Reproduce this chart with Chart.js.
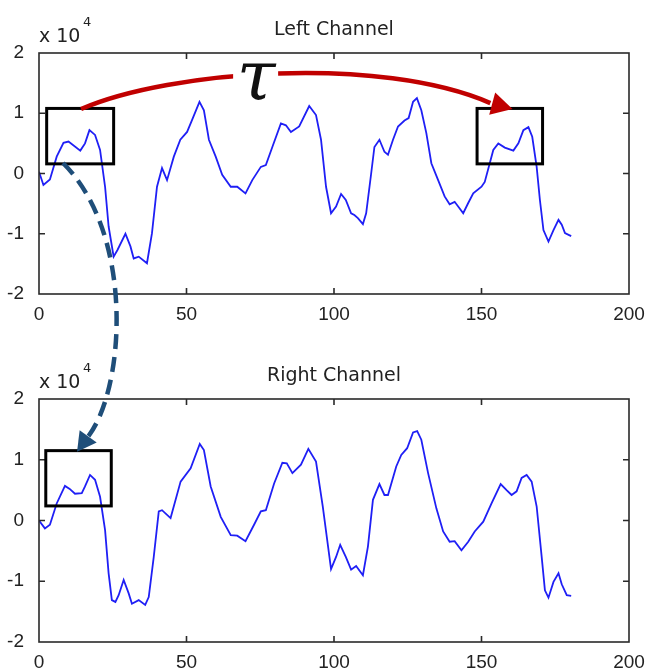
<!DOCTYPE html>
<html><head><meta charset="utf-8">
<script src="https://cdn.jsdelivr.net/npm/chart.js@4.4.1/dist/chart.umd.min.js"></script>
<style>
html,body{margin:0;padding:0;background:#fff;}
#wrap{position:relative;width:648px;height:669px;overflow:hidden;background:#fff;}
canvas{position:absolute;left:0;}
</style></head><body>
<div id="wrap">
<canvas id="c1" width="648" height="330" style="top:0px"></canvas>
<canvas id="c2" width="648" height="333" style="top:336px"></canvas>
<canvas id="ov" width="648" height="669" style="top:0px;pointer-events:none"></canvas>
</div>
<script>
// ---- data ----
const chartTitles = ['Left Channel', 'Right Channel'];
const exponentText = ['x 10', '4'];
const tauLabel = '\u03C4';
const xTicks = [0, 50, 100, 150, 200];
const yTicks = [-20000, -10000, 0, 10000, 20000];

const leftX = [0,1.5,3.7,6,8.3,10,14,15.6,17.1,19,20.7,22.4,23.6,25.3,26.6,29.3,31,32.1,33.8,36.6,38.3,40,41.7,43.4,45.7,47.9,50.2,51.9,54.4,55.9,57.6,59.9,62.1,65,67.2,70,72.3,75.2,76.9,79.1,82,83.7,85.4,88.2,91.6,93.9,95.6,97.3,99,100.7,102.4,104,105.8,106.9,108.1,109.8,110.9,112.6,113.7,115.4,117.1,118.3,120,121.7,123.9,125.3,126.8,128.1,129.6,131.3,133,135.3,137.5,139.2,140.9,142.6,143.8,145.5,147.2,150,151.1,152.8,154,155.7,157.9,160.8,162.5,164.2,165.9,167.2,168.7,169.8,171,172.7,174.4,176.1,177.2,178.3,180.4];
const leftY = [300,-1900,-1000,2800,5100,5300,3800,5000,7200,6400,3900,-2200,-8800,-13800,-12700,-10000,-12100,-14100,-13800,-14900,-9900,-2200,900,-1100,2800,5600,6900,8900,11900,10500,5600,2800,-200,-2200,-2200,-3300,-1100,1100,1400,4400,8300,8000,6900,7800,11200,9700,5600,-2200,-6600,-5500,-3400,-4400,-6600,-6900,-7400,-8400,-6600,0,4400,5600,3600,3100,5600,7800,8800,9200,11900,12500,10500,6700,1700,-1100,-3800,-5100,-4700,-5800,-6600,-4900,-3300,-2200,-1400,1700,3900,5000,4300,3800,5000,7200,7700,6100,1100,-4400,-9400,-11300,-9400,-7700,-8500,-9900,-10400];

const rightX = [0,2,3.7,6,8.8,10.4,12.2,14.5,15.6,17.3,19,20.7,22.4,23.6,24.7,25.9,27,28.7,30.4,31.5,33.8,36,37.2,38.9,40.6,41.7,44.6,48,51.4,54.5,55.9,58.2,61.6,65,67.2,70,72.9,75.2,76.9,79.7,82.5,84,85.9,88.8,91.3,93.9,96.2,99,100.7,102.1,104,105.8,107.5,109.8,111.5,113.2,115.4,117.1,118.3,121.1,122.8,124.8,126.8,128.2,129.6,131.9,134.7,137,139.2,140.9,143.2,145.5,147.7,150.6,153.4,156.5,158.5,160.2,161.9,163.6,165.3,167,168.7,170.4,171.5,172.7,174.4,176.1,177.2,178.9,180.4];
const rightY = [0,-1300,-700,2800,5700,5200,4400,4500,5600,7500,6700,3900,-1600,-8700,-13100,-13400,-12300,-9800,-12000,-13700,-13100,-13900,-12600,-6000,1500,1700,400,6400,8600,12600,11600,5600,600,-2400,-2500,-3400,-700,1500,1700,6100,9500,9400,7800,9200,11800,9700,2300,-8000,-6000,-4000,-6000,-8100,-7500,-9000,-4300,3400,6000,4200,4200,8900,10800,11900,14500,14700,13300,7800,2000,-1800,-3500,-3400,-4900,-3500,-1800,-200,2800,6000,5000,4200,4800,7000,7500,6400,2300,-6000,-11500,-12700,-10100,-8700,-10500,-12300,-12400];

// annotation anchors in data units
const boxesLeft = [[2.6, 25.3, 1600, 10800], [148.5, 170.7, 1600, 10800]];
const boxesRight = [[2.3, 24.5, 2400, 11500]];

// ---- styling ----
const TXT = '#222222';
const FONT = '"Liberation Sans", Arial, sans-serif';
const FONT2 = '"DejaVu Sans", "Liberation Sans", sans-serif';

const frame = {
  id: 'matlabFrame',
  afterDatasetsDraw(chart, args, opts) {
    const ctx = chart.ctx, a = chart.chartArea;
    const xs = chart.scales.x, ys = chart.scales.y;
    ctx.save();
    ctx.strokeStyle = '#2a2a2a';
    ctx.lineWidth = 1.6;
    ctx.strokeRect(a.left, a.top, a.right - a.left, a.bottom - a.top);
    ctx.beginPath();
    const tl = 6;
    xTicks.forEach(v => {
      const p = xs.getPixelForValue(v);
      if (p <= a.left + 1 || p >= a.right - 1) return;
      ctx.moveTo(p, a.bottom); ctx.lineTo(p, a.bottom - tl);
      ctx.moveTo(p, a.top); ctx.lineTo(p, a.top + tl);
    });
    yTicks.forEach(v => {
      const p = ys.getPixelForValue(v);
      if (p <= a.top + 1 || p >= a.bottom - 1) return;
      ctx.moveTo(a.left, p); ctx.lineTo(a.left + tl, p);
      ctx.moveTo(a.right, p); ctx.lineTo(a.right - tl, p);
    });
    ctx.stroke();
    // annotation boxes
    ctx.strokeStyle = '#000';
    ctx.lineWidth = 3;
    (opts.boxes || []).forEach(b => {
      const x0 = xs.getPixelForValue(b[0]), x1 = xs.getPixelForValue(b[1]);
      const y0 = ys.getPixelForValue(b[3]), y1 = ys.getPixelForValue(b[2]);
      ctx.strokeRect(x0, y0, x1 - x0, y1 - y0);
    });
    // title and exponent
    ctx.fillStyle = TXT;
    ctx.textBaseline = 'alphabetic';
    ctx.textAlign = 'center';
    ctx.font = '19px ' + FONT2;
    ctx.fillText(opts.title, (a.left + a.right) / 2, a.top - 18);
    ctx.textAlign = 'left';
    ctx.font = '19px ' + FONT2;
    ctx.fillText(exponentText[0], a.left, a.top - 11);
    ctx.font = '13px ' + FONT2;
    ctx.fillText(exponentText[1], a.left + 44, a.top - 27);
    ctx.restore();
  }
};

function makeChart(id, xsArr, ysArr, title, boxes, padTop, xAxisH) {
  return new Chart(document.getElementById(id), {
    type: 'line',
    data: { datasets: [{
      data: xsArr.map((x, i) => ({ x: x, y: ysArr[i] })),
      borderColor: '#1f1ff5', borderWidth: 1.8, pointRadius: 0, tension: 0, fill: false
    }] },
    options: {
      responsive: false, animation: false, events: [],
      layout: { padding: { top: padTop, right: 19, left: 0, bottom: 0 } },
      plugins: { legend: { display: false }, title: { display: false }, tooltip: { enabled: false },
        matlabFrame: { title: title, boxes: boxes } },
      scales: {
        x: {
          type: 'linear', min: 0, max: 200,
          grid: { display: false }, border: { display: false },
          ticks: { color: TXT, font: { family: FONT, size: 19 }, padding: 1, maxRotation: 0, autoSkip: false },
          afterBuildTicks: s => { s.ticks = xTicks.map(v => ({ value: v })); },
          afterFit: s => { s.height = xAxisH; s.paddingLeft = 0; s.paddingRight = 0; }
        },
        y: {
          type: 'linear', min: -20000, max: 20000,
          grid: { display: false }, border: { display: false },
          ticks: { color: TXT, font: { family: FONT, size: 19 }, padding: 7,
            callback: v => String(v / 10000) },
          afterBuildTicks: s => { s.ticks = yTicks.map(v => ({ value: v })); },
          afterFit: s => { s.width = 39; s.paddingTop = 0; s.paddingBottom = 0; }
        }
      }
    },
    plugins: [frame]
  });
}

const ch1 = makeChart('c1', leftX, leftY, chartTitles[0], boxesLeft, 53, 36);
const ch2 = makeChart('c2', rightX, rightY, chartTitles[1], boxesRight, 63, 27);

function drawOverlay() {
  const cv = document.getElementById('ov');
  const ctx = cv.getContext('2d');
  ctx.clearRect(0, 0, cv.width, cv.height);
  const off1 = document.getElementById('c1').offsetTop;
  const off2 = document.getElementById('c2').offsetTop;
  const P1 = (x, y) => [ch1.scales.x.getPixelForValue(x), ch1.scales.y.getPixelForValue(y) + off1];
  const P2 = (x, y) => [ch2.scales.x.getPixelForValue(x), ch2.scales.y.getPixelForValue(y) + off2];

  function head(tip, from, len, half, color) {
    const dx = tip[0] - from[0], dy = tip[1] - from[1];
    const d = Math.hypot(dx, dy), ux = dx / d, uy = dy / d;
    const bx = tip[0] - ux * len, by = tip[1] - uy * len;
    ctx.fillStyle = color;
    ctx.beginPath();
    ctx.moveTo(tip[0], tip[1]);
    ctx.lineTo(bx - uy * half, by + ux * half);
    ctx.lineTo(bx + uy * half, by - ux * half);
    ctx.closePath();
    ctx.fill();
  }

  // red arrow (delay tau)
  const r0 = P1(14.25, 10700), r1 = P1(44.45, 17160), r2 = P1(115.7, 19650), r3 = P1(153.0, 11690);
  const rTip = P1(160.5, 10700);
  ctx.save();
  ctx.strokeStyle = '#c00000';
  ctx.lineWidth = 4.5;
  ctx.beginPath();
  ctx.moveTo(r0[0], r0[1]);
  ctx.bezierCurveTo(r1[0], r1[1], r2[0], r2[1], r3[0], r3[1]);
  ctx.stroke();
  head(rTip, r3, 21, 11.5, '#c00000');
  // tau label with white backing
  const tp = P1(73.6, 12350);
  ctx.fillStyle = '#fff';
  ctx.fillRect(tp[0] - 23, tp[1] - 36, 45, 26);
  ctx.fillStyle = '#111';
  ctx.textAlign = 'center';
  ctx.textBaseline = 'alphabetic';
  ctx.font = 'italic 70px "DejaVu Serif", "Liberation Serif", serif';
  ctx.fillText(tauLabel, tp[0], tp[1]);
  ctx.restore();

  // blue dashed arrow (left -> right channel)
  const b0 = P1(8.14, 1740), b1 = P1(32.6, -10200), b2 = P2(29.2, 21530), b3 = P2(16.46, 13700);
  const bTip = P2(12.9, 11300);
  ctx.save();
  ctx.strokeStyle = '#1f4e79';
  ctx.lineWidth = 4.5;
  ctx.setLineDash([15, 8]);
  ctx.beginPath();
  ctx.moveTo(b0[0], b0[1]);
  ctx.bezierCurveTo(b1[0], b1[1], b2[0], b2[1], b3[0], b3[1]);
  ctx.stroke();
  ctx.setLineDash([]);
  head(bTip, b3, 19, 10.5, '#1f4e79');
  ctx.restore();
}
drawOverlay();
setTimeout(drawOverlay, 50);
</script>
</body></html>
